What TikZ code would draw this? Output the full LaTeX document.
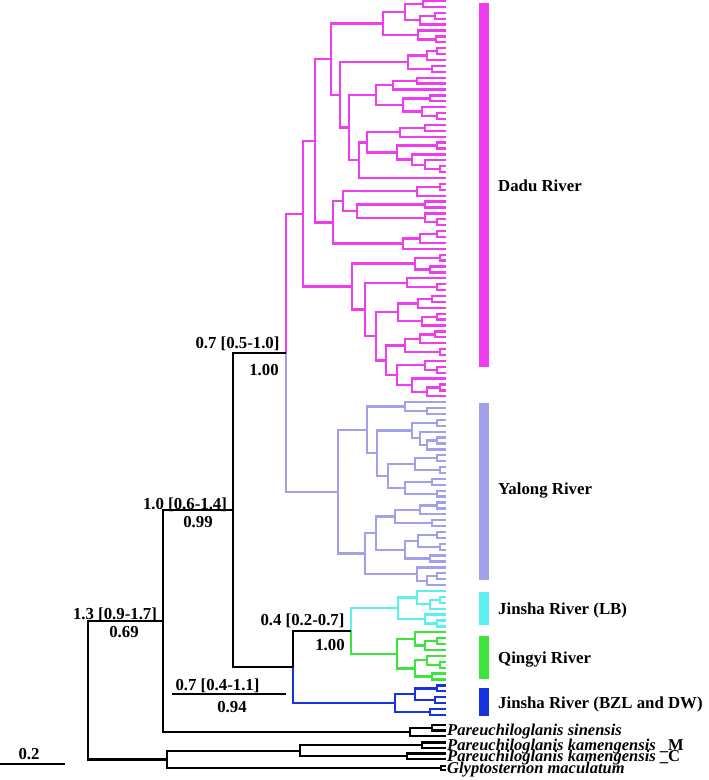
\documentclass[tikz,border=0pt]{standalone}
\usepackage{fontspec}
\setmainfont{Liberation Serif}
\usetikzlibrary{calc}
\definecolor{dadu}{RGB}{238,60,238}
\definecolor{yal}{RGB}{160,160,235}
\definecolor{lb}{RGB}{90,240,240}
\definecolor{qy}{RGB}{60,228,60}
\definecolor{bzl}{RGB}{25,50,225}
\tikzset{
  br/.style={line width=2.3pt,line join=miter},
  lab/.style={font=\fontsize{16.8}{18}\selectfont\bfseries,inner sep=0pt},
  sp/.style={lab,anchor=base west,font=\fontsize{16.5}{18}\selectfont\bfseries\itshape},
}
% clade: name, x, upper child, lower child
\newcommand\cl[4]{%
  \path let \p1=($(#3)!.5!(#4)$) in coordinate (#1) at (#2pt,\y1);
  \draw[br] (#3) -- (#3 -| #1) -- (#4 -| #1) -- (#4);}
% clade with two colours
\newcommand\clc[6]{%
  \path let \p1=($(#3)!.5!(#4)$) in coordinate (#1) at (#2pt,\y1);
  \draw[br,#5] (#3) -- (#3 -| #1) -- (#1);
  \draw[br,#6] (#1) -- (#4 -| #1) -- (#4);}

\begin{document}
\begin{tikzpicture}[x=1pt,y=-1pt]
  \useasboundingbox (0,0) rectangle (709,780);
  \foreach \i in {0,...,121}
    \coordinate (t\i) at (446,{1+5.9*\i});

  % Dadu River
  \begin{scope}[dadu]
    \cl{m1}{423}{t0}{t1}
    \cl{m2}{435}{t2}{t3}
    \cl{m3}{420}{m2}{t4}
    \cl{m4}{405}{m1}{m3}
    \cl{m5}{436}{t6}{t7}
    \cl{m6}{418}{t5}{m5}
    \cl{m7}{383}{m4}{m6}
    \cl{m8}{437}{t8}{t9}
    \cl{m9}{427}{m8}{t10}
    \cl{m10}{432}{t11}{t12}
    \cl{m11}{408}{m9}{m10}
    \cl{m12}{417}{t13}{t14}
    \cl{m13}{393}{m12}{t15}
    \cl{m14}{430}{t16}{t17}
    \cl{m15}{437}{t19}{t20}
    \cl{m16}{422}{t18}{m15}
    \cl{m17}{403}{m14}{m16}
    \cl{m18}{376}{m13}{m17}
    \cl{m19}{425}{t21}{t22}
    \cl{m20}{400}{m19}{t23}
    \cl{m21}{437}{t24}{t25}
    \cl{m22}{440}{t28}{t29}
    \cl{m23}{425}{t27}{m22}
    \cl{m24}{412}{t26}{m23}
    \cl{m25}{397}{m21}{m24}
    \cl{m26}{367}{m20}{m25}
    \cl{m27}{359}{m26}{t30}
    \cl{m28}{349}{m18}{m27}
    \cl{m29}{340}{m11}{m28}
    \cl{m30}{331}{m7}{m29}
    \cl{m31}{440}{t31}{t32}
    \cl{m32}{417}{m31}{t33}
    \cl{m33}{425}{t34}{t35}
    \cl{m34}{437}{t37}{t38}
    \cl{m35}{425}{t36}{m34}
    \cl{m36}{357}{m33}{m35}
    \cl{m37}{343}{m32}{m36}
    \cl{m38}{437}{t39}{t40}
    \cl{m39}{420}{m38}{t41}
    \cl{m40}{403}{m39}{t42}
    \cl{m41}{333}{m37}{m40}
    \cl{m42}{315}{m30}{m41}
    \cl{m43}{440}{t43}{t44}
    \cl{m44}{430}{t45}{t46}
    \cl{m45}{415}{m43}{m44}
    \cl{m46}{437}{t48}{t49}
    \cl{m47}{407}{t47}{m46}
    \cl{m48}{432}{t50}{t51}
    \cl{m49}{418}{m48}{t52}
    \cl{m50}{437}{t53}{t54}
    \cl{m51}{422}{m50}{t55}
    \cl{m52}{398}{m49}{m51}
    \cl{m53}{435}{t56}{t57}
    \cl{m54}{420}{m53}{t58}
    \cl{m55}{440}{t59}{t60}
    \cl{m56}{405}{m54}{m55}
    \cl{m57}{437}{t62}{t63}
    \cl{m58}{425}{t61}{m57}
    \cl{m59}{440}{t65}{t66}
    \cl{m60}{427}{m59}{t67}
    \cl{m61}{412}{t64}{m60}
    \cl{m62}{397}{m58}{m61}
    \cl{m63}{386}{m56}{m62}
    \cl{m64}{376}{m52}{m63}
    \cl{m65}{365}{m47}{m64}
    \cl{m66}{352}{m45}{m65}
    \cl{dd}{303}{m42}{m66}
  \end{scope}

  % Yalong River
  \begin{scope}[yal]
    \cl{y1}{427}{t69}{t70}
    \cl{y2}{405}{t68}{y1}
    \cl{y3}{437}{t71}{t72}
    \cl{y4}{437}{t74}{t75}
    \cl{y5}{427}{y4}{t76}
    \cl{y6}{420}{t73}{y5}
    \cl{y7}{412}{y3}{y6}
    \cl{y8}{437}{t77}{t78}
    \cl{y9}{440}{t79}{t80}
    \cl{y10}{415}{y8}{y9}
    \cl{y11}{432}{t81}{t82}
    \cl{y12}{437}{t83}{t84}
    \cl{y13}{405}{y11}{y12}
    \cl{y14}{388}{y10}{y13}
    \cl{y15}{377}{y7}{y14}
    \cl{y16}{367}{y2}{y15}
    \cl{y17}{437}{t85}{t86}
    \cl{y18}{420}{y17}{t87}
    \cl{y19}{432}{t88}{t89}
    \cl{y20}{395}{y18}{y19}
    \cl{y21}{437}{t90}{t91}
    \cl{y22}{440}{t92}{t93}
    \cl{y23}{418}{y21}{y22}
    \cl{y24}{430}{t94}{t95}
    \cl{y25}{405}{y23}{y24}
    \cl{y26}{376}{y20}{y25}
    \cl{y27}{437}{t97}{t98}
    \cl{y28}{427}{y27}{t99}
    \cl{y29}{417}{t96}{y28}
    \cl{y30}{365}{y26}{y29}
    \cl{yl}{338}{y16}{y30}
  \end{scope}

  % Jinsha River (LB)
  \begin{scope}[lb]
    \cl{c1}{440}{t101}{t102}
    \cl{c2}{430}{c1}{t103}
    \cl{c3}{417}{t100}{c2}
    \cl{c4}{437}{t105}{t106}
    \cl{c5}{425}{t104}{c4}
    \cl{lbr}{398}{c3}{c5}
  \end{scope}

  % Qingyi River
  \begin{scope}[qy]
    \cl{g1}{437}{t108}{t109}
    \cl{g2}{425}{g1}{t110}
    \cl{g3}{415}{t107}{g2}
    \cl{g4}{440}{t112}{t113}
    \cl{g5}{427}{t111}{g4}
    \cl{g6}{432}{t114}{t115}
    \cl{g7}{415}{g5}{g6}
    \cl{qyr}{397}{g3}{g7}
  \end{scope}

  % Jinsha River (BZL and DW)
  \begin{scope}[bzl]
    \cl{b1}{437}{t116}{t117}
    \cl{b2}{435}{t118}{t119}
    \cl{b3}{415}{b1}{b2}
    \cl{b4}{430}{t120}{t121}
    \cl{bzr}{395}{b3}{b4}
  \end{scope}

  % outgroups
  \coordinate (o1) at (446,725);
  \coordinate (o2) at (446,730.5);
  \coordinate (o3) at (446,736);
  \coordinate (o4) at (446,742.5);
  \coordinate (o5) at (446,748);
  \coordinate (o6) at (446,753.5);
  \coordinate (o7) at (446,759);
  \coordinate (o8) at (446,766);
  \coordinate (o9) at (446,770);
  \cl{s1}{432}{o1}{o2}
  \cl{sin}{410}{s1}{o3}
  \cl{km}{422}{o4}{o5}
  \cl{kc}{407}{o6}{o7}
  \cl{kam}{300}{km}{kc}
  \cl{gl}{441}{o8}{o9}
  \cl{og}{167}{kam}{gl}

  % backbone
  \clc{n07a}{286}{dd}{yl}{dadu}{yal}
  \clc{n04}{351}{lbr}{qyr}{lb}{qy}
  \clc{n07b}{293}{n04}{bzr}{black}{bzl}
  \cl{n10}{233}{n07a}{n07b}
  \cl{n13}{163}{n10}{sin}
  \cl{root}{88}{n13}{og}

  % node ages and posteriors
  \node[lab,anchor=base] (a1) at (237.5,348) {0.7 [0.5-1.0]};
  \node[lab,anchor=base] (p1) at (264,375) {1.00};
  \node[lab,anchor=base] (a2) at (185,509) {1.0 [0.6-1.4]};
  \node[lab,anchor=base] (p2) at (198,527) {0.99};
  \node[lab,anchor=base] (a3) at (115,619) {1.3 [0.9-1.7]};
  \node[lab,anchor=base] (p3) at (124,637) {0.69};
  \node[lab,anchor=base] (a4) at (302.5,625) {0.4 [0.2-0.7]};
  \node[lab,anchor=base] (p4) at (330,650) {1.00};
  \node[lab,anchor=base] (a5) at (217.5,690) {0.7 [0.4-1.1]};
  \node[lab,anchor=base] (p5) at (232,712) {0.94};
  \coordinate (r5a) at (172,694);
  \coordinate (r5b) at (286,694);
  \draw[line width=1.8pt] (r5a) -- (r5b);

  % scale bar
  \coordinate (sb1) at (0,764);
  \coordinate (sb2) at (65,764);
  \draw[line width=1.8pt] (sb1) -- (sb2);
  \node[lab,anchor=base] (sbl) at (29,759) {0.2};

  % river bars
  \fill[dadu] (479,3) rectangle (489,367);
  \fill[yal] (479,403) rectangle (489,580);
  \fill[lb] (479,592) rectangle (489,625);
  \fill[qy] (479,636) rectangle (489,679);
  \fill[bzl] (479,688) rectangle (489,716);
  \node[lab,anchor=base west] (rv1) at (498,191) {Dadu River};
  \node[lab,anchor=base west] (rv2) at (498,494) {Yalong River};
  \node[lab,anchor=base west] (rv3) at (498,614) {Jinsha River (LB)};
  \node[lab,anchor=base west] (rv4) at (498,663) {Qingyi River};
  \node[lab,anchor=base west] (rv5) at (498,708) {Jinsha River (BZL and DW)};

  % species
  \node[sp] (sp1) at (447,735.5) {Pareuchiloglanis sinensis};
  \node[sp] (sp2) at (447,750.5) {Pareuchiloglanis kamengensis {\upshape\_M}};
  \node[sp] (sp3) at (447,761.5) {Pareuchiloglanis kamengensis {\upshape\_C}};
  \node[sp] (sp4) at (447,773.5) {Glyptosternon maculatum};
\end{tikzpicture}
\end{document}
